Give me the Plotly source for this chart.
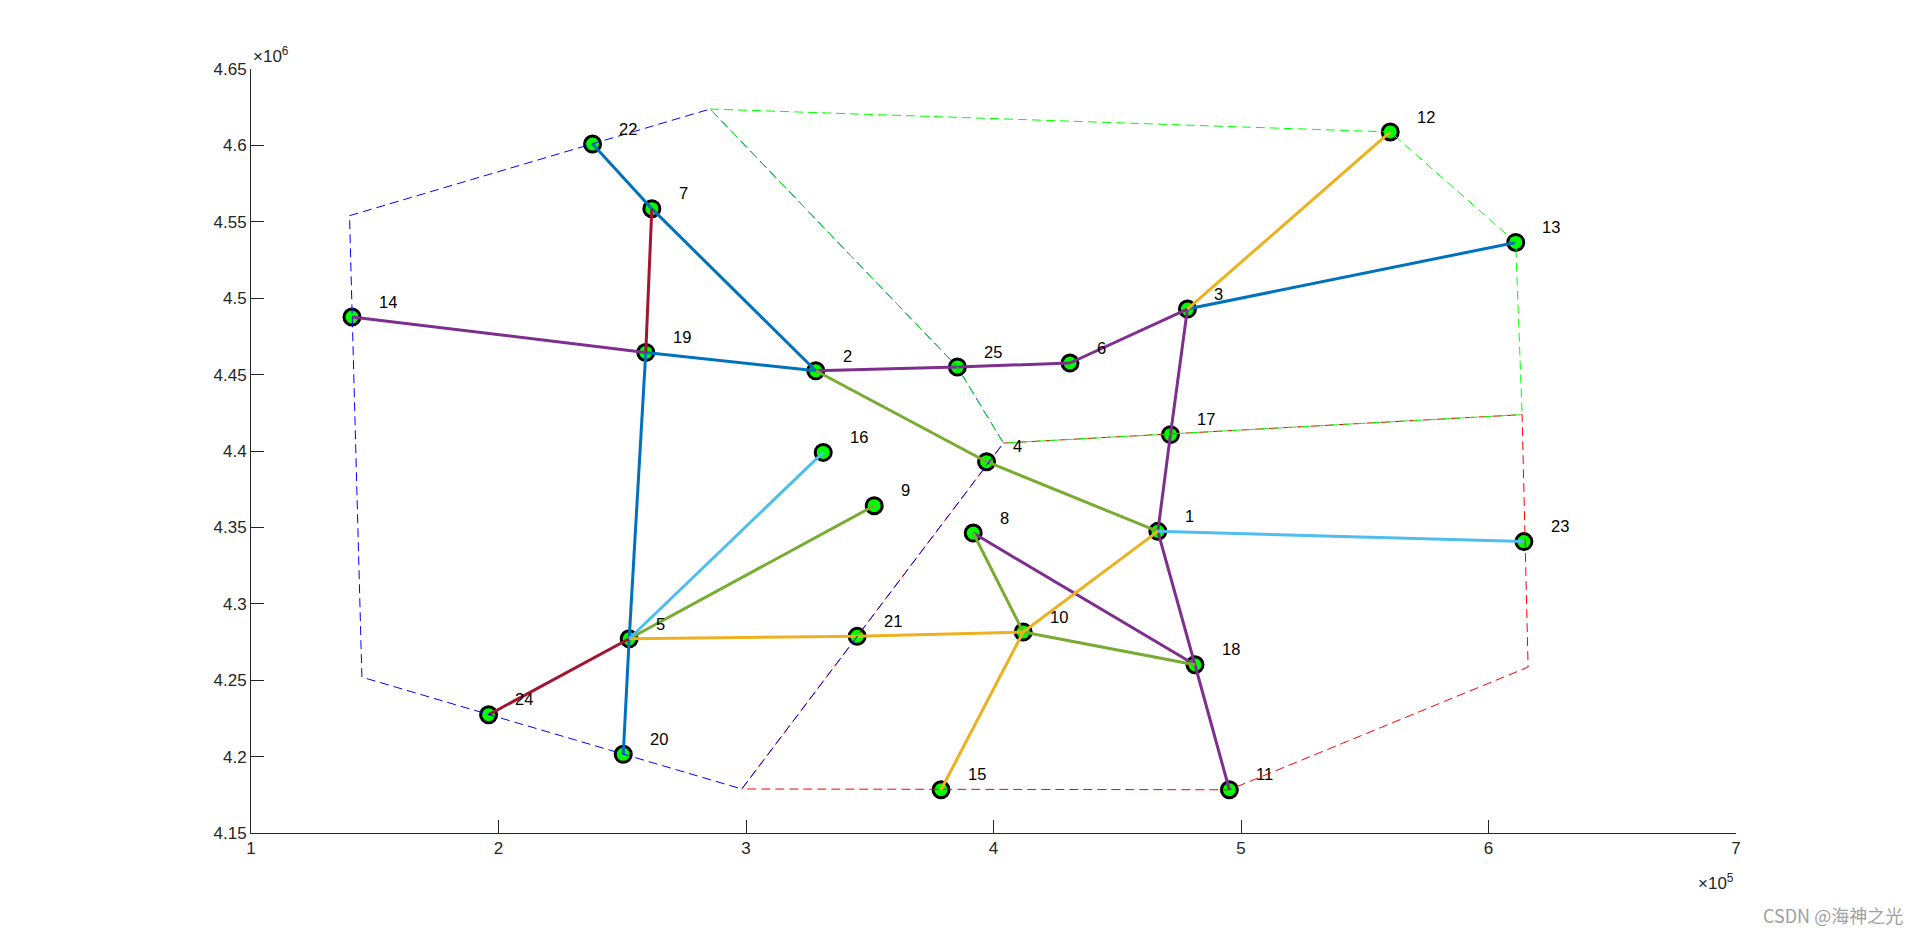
import plotly.graph_objects as go

# ---------------- data ----------------
node_ids = list(range(1, 26))
node_x = [466400, 328200, 478350, 397200, 252800, 430900, 261950, 391800, 351800, 412000,
          495300, 560300, 611000, 140800, 378800, 331200, 471500, 481400, 259500, 250400,
          344900, 238000, 614300, 196000, 385400]
node_y = [4347400, 4452500, 4492900, 4393000, 4277100, 4457600, 4558600, 4346300, 4364200, 4281500,
          4178300, 4608800, 4536500, 4487700, 4178300, 4399100, 4410700, 4260100, 4464500, 4201500,
          4278700, 4600900, 4340700, 4227400, 4455000]

# edges grouped by colour (pairs of node ids)
edges_blue = [(22, 7), (7, 2), (19, 2), (19, 5), (5, 20), (3, 13)]
edges_darkred = [(7, 19), (5, 24)]
edges_purple = [(14, 19), (2, 25), (25, 6), (6, 3), (3, 17), (17, 1), (1, 18), (18, 11), (8, 18)]
edges_green = [(2, 4), (4, 1), (5, 9), (8, 10), (10, 18)]
edges_orange = [(3, 12), (5, 21), (21, 10), (10, 1), (10, 15)]
edges_lightblue = [(5, 16), (1, 23)]

# region boundaries (dashed polygons)
region_blue_x = [139800, 285500, 385400, 404000, 298300, 144800, 139800]
region_blue_y = [4554000, 4623800, 4455000, 4405200, 4178800, 4252000, 4554000]
region_green_x = [285500, 560300, 611000, 613570, 404000, 385400, 285500]
region_green_y = [4623800, 4608800, 4536500, 4423800, 4405200, 4455000, 4623800]
region_red_x = [404000, 613570, 616000, 495300, 298300, 404000]
region_red_y = [4405200, 4423800, 4258600, 4178300, 4178800, 4405200]

x_ticks = [100000, 200000, 300000, 400000, 500000, 600000, 700000]
x_tick_labels = ["1", "2", "3", "4", "5", "6", "7"]
y_ticks = [4150000, 4200000, 4250000, 4300000, 4350000, 4400000, 4450000, 4500000, 4550000, 4600000, 4650000]
y_tick_labels = ["4.15", "4.2", "4.25", "4.3", "4.35", "4.4", "4.45", "4.5", "4.55", "4.6", "4.65"]

# ---------------- figure ----------------
FONT = "Liberation Sans, Arial, Helvetica, sans-serif"
W, H = 1904, 921           # page body has an 8px margin
ML, MR, MT, MB = 243, 176, 61, 96
fig = go.Figure()

# nodes first (lines are drawn over them in the reference)
fig.add_trace(go.Scatter(
    x=node_x, y=node_y, mode="markers",
    marker=dict(size=16, color="#00ff00", line=dict(color="black", width=3)),
    hoverinfo="text", text=[str(i) for i in node_ids], showlegend=False))

pos = {i: (node_x[k], node_y[k]) for k, i in enumerate(node_ids)}


def add_edges(edges, color):
    xs, ys = [], []
    for a, b in edges:
        xs += [pos[a][0], pos[b][0], None]
        ys += [pos[a][1], pos[b][1], None]
    fig.add_trace(go.Scatter(x=xs, y=ys, mode="lines",
                             line=dict(color=color, width=3),
                             hoverinfo="skip", showlegend=False))


add_edges(edges_blue, "#0072BD")
add_edges(edges_darkred, "#A2142F")
add_edges(edges_purple, "#7E2F8E")
add_edges(edges_green, "#77AC30")
add_edges(edges_orange, "#EDB120")
add_edges(edges_lightblue, "#4DBEEE")

for rx, ry, col in [(region_red_x, region_red_y, "#ff0000"),
                    (region_blue_x, region_blue_y, "#0000ff"),
                    (region_green_x, region_green_y, "#00ff00")]:
    fig.add_trace(go.Scatter(x=rx, y=ry, mode="lines",
                             line=dict(color=col, width=1, dash="9px,5px"),
                             hoverinfo="skip", showlegend=False))

annotations = []
for i in node_ids:
    annotations.append(dict(
        x=pos[i][0] + 10000, y=pos[i][1] + 10000, xref="x", yref="y",
        text=str(i), showarrow=False, xanchor="left", yanchor="middle",
        font=dict(family=FONT, size=16.5, color="black")))

annotations.append(dict(x=0, y=1, xref="paper", yref="paper", text="×10<sup>6</sup>",
                        showarrow=False, xanchor="left", yanchor="bottom", yshift=1,
                        font=dict(family=FONT, size=17, color="#262626")))
annotations.append(dict(x=1, y=0, xref="paper", yref="paper", text="×10<sup>5</sup>",
                        showarrow=False, xanchor="right", yanchor="top", yshift=-36,
                        font=dict(family=FONT, size=17, color="#262626")))

pw = W - ML - MR
ph = H - MT - MB
# watermark: page pixel position (1905, 915) converted to paper coords
annotations.append(dict(x=(1905 - 8 - ML) / pw, y=(H - (915 - 8) - MB) / ph,
                        xref="paper", yref="paper", text="CSDN @海神之光",
                        showarrow=False, xanchor="right", yanchor="middle",
                        font=dict(family="Noto Sans CJK SC, sans-serif", size=18, color="#a0a0a0")))

axis_common = dict(showline=True, linecolor="#262626", linewidth=1, mirror=False,
                   ticks="inside", ticklen=13, tickcolor="#262626", tickwidth=1,
                   showgrid=False, zeroline=False,
                   tickfont=dict(family=FONT, size=17, color="#262626"))

fig.update_layout(
    width=W, height=H,
    margin=dict(l=ML, r=MR, t=MT, b=MB),
    paper_bgcolor="white", plot_bgcolor="white",
    xaxis=dict(range=[100000, 700000], tickvals=x_ticks, ticktext=x_tick_labels, **axis_common),
    yaxis=dict(range=[4150000, 4650000], tickvals=y_ticks, ticktext=y_tick_labels, **axis_common),
    annotations=annotations,
    showlegend=False,
)

fig.write_html("out.html")
